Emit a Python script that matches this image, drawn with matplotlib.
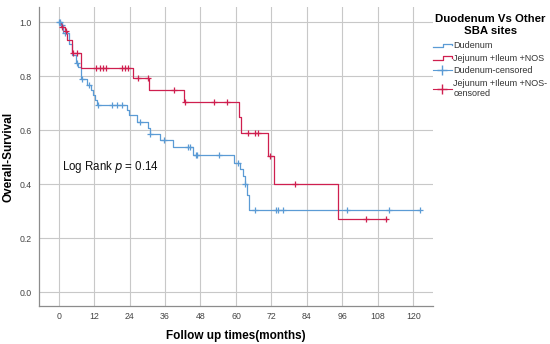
import matplotlib
matplotlib.use("Agg")
import matplotlib.pyplot as plt
from matplotlib.lines import Line2D
from matplotlib.legend_handler import HandlerBase

plt.rcParams['font.family'] = ['Liberation Sans', 'DejaVu Sans']

# --- data ---
# Duodenum: step times (months) and survival after each step
duo_t = [0, 0.8, 1.6, 3.5, 4.4, 5.8, 6.6, 7.5, 9.7, 10.8, 11.7, 12.3, 13.0,
         23.0, 23.8, 26.4, 30.2, 30.9, 34.2, 38.8, 45.5, 59.3, 61.5, 62.4,
         62.9, 63.6, 64.3]
duo_s = [1.0, 0.99, 0.958, 0.92, 0.878, 0.848, 0.835, 0.79, 0.767, 0.748, 0.73,
         0.711, 0.693, 0.674, 0.654, 0.631, 0.606, 0.585, 0.563, 0.537, 0.507,
         0.477, 0.455, 0.43, 0.40, 0.36, 0.304]
duo_end = 122.1
duo_cens_t = [0.2, 0.5, 1.0, 2.2, 6.2, 7.8, 10.2, 13.2, 17.9, 19.6, 21.3, 27.5,
              30.9, 35.5, 43.8, 44.6, 46.4, 46.9, 54.3, 60.7, 63.0, 66.4, 73.7,
              74.3, 75.9, 97.6, 111.8, 122.1]

# Jejunum + Ileum + NOS
jej_t = [0, 0.7, 2.0, 3.0, 4.5, 7.5, 25.2, 30.5, 42.4, 61.1, 61.7, 70.9, 72.8, 94.5]
jej_s = [1.0, 0.983, 0.966, 0.934, 0.884, 0.828, 0.791, 0.75, 0.704, 0.648,
         0.588, 0.505, 0.402, 0.269]
jej_end = 111.0
jej_cens_t = [1.0, 2.4, 5.0, 6.2, 12.6, 14.0, 15.0, 16.0, 21.3, 22.4, 23.5, 27.0,
              30.3, 38.9, 42.6, 52.6, 56.8, 64.1, 66.4, 67.5, 71.4, 79.9, 104.1, 110.9]

x_ticks = [0, 12, 24, 36, 48, 60, 72, 84, 96, 108, 120]
y_ticks = [0.0, 0.2, 0.4, 0.6, 0.8, 1.0]

blue = '#5b9bd5'
red = '#cf1f4f'


def level_at(ts, ss, t):
    val = ss[0]
    for ti, si in zip(ts, ss):
        if ti <= t:
            val = si
    return val


class HandlerStep(HandlerBase):
    def create_artists(self, legend, orig_handle, xdescent, ydescent,
                       width, height, fontsize, trans):
        x0, w, h = -xdescent, width, height
        y0 = -ydescent
        xs = [x0, x0 + w * 0.55, x0 + w * 0.55, x0 + w, x0 + w]
        ys = [y0 + h * 0.2, y0 + h * 0.2, y0 + h * 0.75, y0 + h * 0.75, y0 + h * 0.45]
        ln = Line2D(xs, ys, color=orig_handle.get_color(), lw=0.9, transform=trans)
        return [ln]


fig = plt.figure(figsize=(5.5, 3.44), dpi=100)
ax = fig.add_axes([0.07, 0.110, 0.717, 0.870])

ax.step(duo_t + [duo_end], duo_s + [duo_s[-1]], where='post', color=blue, lw=0.9)
ax.step(jej_t + [jej_end], jej_s + [jej_s[-1]], where='post', color=red, lw=0.9)

ax.plot(duo_cens_t, [level_at(duo_t, duo_s, t) for t in duo_cens_t],
        ls='none', marker='+', ms=5, mew=0.9, color=blue)
ax.plot(jej_cens_t, [level_at(jej_t, jej_s, t) for t in jej_cens_t],
        ls='none', marker='+', ms=5, mew=0.9, color=red)

ax.text(17.7, 0.463, r'Log Rank $\mathit{p}$ = 0.14', ha='center', va='center',
        fontsize=8.3, color='#111111')

ax.set_xlim(-6.8, 126.6)
ax.set_ylim(-0.052, 1.056)
ax.set_xticks(x_ticks)
ax.set_yticks(y_ticks)
ax.set_yticklabels([f'{v:.1f}' for v in y_ticks])
ax.tick_params(length=0, labelsize=6.3, labelcolor='#444444', pad=5)
ax.tick_params(axis='x', pad=4)
ax.grid(True, color='#c8c8c8', lw=0.8)
ax.set_axisbelow(True)
for side in ['top', 'right']:
    ax.spines[side].set_visible(False)
for side in ['left', 'bottom']:
    ax.spines[side].set_color('#8c8c8c')
    ax.spines[side].set_linewidth(0.9)

ax.set_xlabel('Follow up times(months)', fontsize=8.5, fontweight='bold', labelpad=7)
ax.set_ylabel('Overall-Survival', fontsize=8.5, fontweight='bold')
ax.yaxis.set_label_coords(-0.062, 0.5)

h1 = Line2D([], [], color=blue)
h2 = Line2D([], [], color=red)
h3 = Line2D([], [], color=blue, marker='+', ms=7, lw=0.8)
h4 = Line2D([], [], color=red, marker='+', ms=7, lw=0.8)
leg = fig.legend([h1, h2, h3, h4],
                 ['Dudenum', 'Jejunum +Ileum +NOS', 'Dudenum-censored',
                  'Jejunum +Ileum +NOS-\ncensored'],
                 loc='upper left', bbox_to_anchor=(0.787, 0.959),
                 title='Duodenum Vs Other\nSBA sites', frameon=False,
                 fontsize=6.5, handlelength=2.1, handletextpad=0.15,
                 labelspacing=0.4, borderaxespad=0, borderpad=0,
                 handler_map={h1: HandlerStep(), h2: HandlerStep()})
leg.get_title().set_fontweight('bold')
leg.get_title().set_fontsize(8.2)
leg.get_title().set_multialignment('center')
leg._legend_box.sep = 4
for t in leg.get_texts():
    t.set_color('#333333')

fig.savefig('out.png', dpi=100)
